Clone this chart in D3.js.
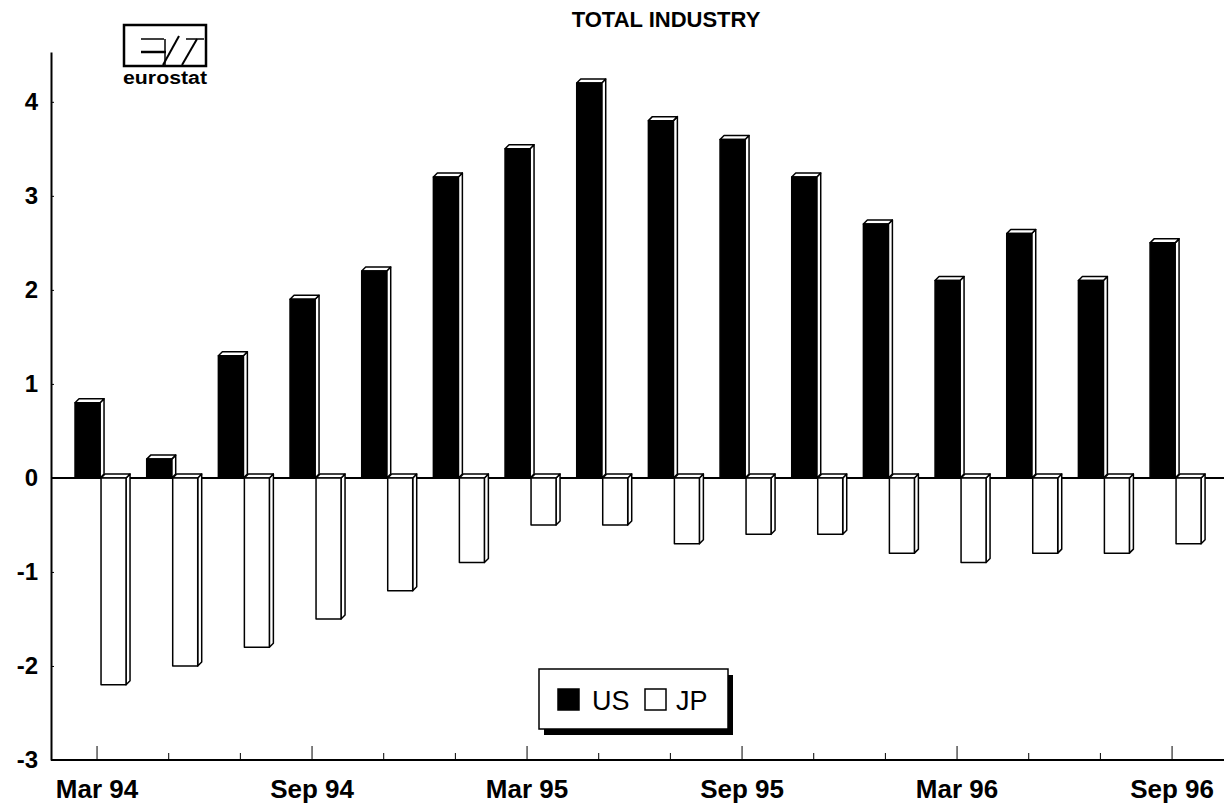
<!DOCTYPE html>
<html lang="en">
<head>
<meta charset="UTF-8">
<title>Total Industry</title>
<script src="https://d3js.org/d3.v7.min.js"></script>
<style>
  body { margin: 0; background: #fff; }
  svg { display: block; font-family: "Liberation Sans", Arial, sans-serif; }
  .ylab text { font-size: 24px; font-weight: bold; }
  .xlab text { font-size: 26px; font-weight: bold; }
</style>
</head>
<body>
<svg id="chart" width="1224" height="807"></svg>
<script>
// --- data ---
const categories = ["Mar 94", "May 94", "Jul 94", "Sep 94", "Nov 94", "Jan 95", "Mar 95", "May 95",
                    "Jul 95", "Sep 95", "Nov 95", "Jan 96", "Mar 96", "May 96", "Jul 96", "Sep 96"];
const labelledTicks = ["Mar 94", "Sep 94", "Mar 95", "Sep 95", "Mar 96", "Sep 96"];
const usValues = [0.8, 0.2, 1.3, 1.9, 2.2, 3.2, 3.5, 4.2, 3.8, 3.6, 3.2, 2.7, 2.1, 2.6, 2.1, 2.5];
const jpValues = [-2.2, -2.0, -1.8, -1.5, -1.2, -0.9, -0.5, -0.5, -0.7, -0.6, -0.6, -0.8, -0.9, -0.8, -0.8, -0.7];
const yTicks = [-3, -2, -1, 0, 1, 2, 3, 4];
const seriesNames = ["US", "JP"];
const seriesFill = ["#000", "#fff"];

const svg = d3.select("#chart");
svg.append("rect").attr("width", 1224).attr("height", 807).attr("fill", "#fff");

const x = d3.scaleBand().domain(categories).range([61.2, 1207.9]);
const y = d3.scaleLinear().domain([-3, 4.53]).range([760, 52]);

const axisX = 51;
const depth = 4;
const barW = 25;

// title
svg.append("text")
  .attr("x", 666).attr("y", 27)
  .attr("text-anchor", "middle")
  .style("font-size", "22px").style("font-weight", "bold")
  .text("TOTAL INDUSTRY");

// eurostat logo (rough)
const logo = svg.append("g").attr("stroke", "#000").attr("fill", "none");
logo.append("rect").attr("x", 124).attr("y", 25).attr("width", 82).attr("height", 41).attr("stroke-width", 2.5);
logo.append("line").attr("x1", 141).attr("y1", 39).attr("x2", 164).attr("y2", 39).attr("stroke-width", 1.5);
logo.append("line").attr("x1", 141).attr("y1", 52).attr("x2", 166).attr("y2", 52).attr("stroke-width", 2.5);
logo.append("line").attr("x1", 165).attr("y1", 39).attr("x2", 165).attr("y2", 65).attr("stroke-width", 1.5);
logo.append("line").attr("x1", 163).attr("y1", 65).attr("x2", 179).attr("y2", 36).attr("stroke-width", 2);
logo.append("line").attr("x1", 182).attr("y1", 65).attr("x2", 197).attr("y2", 39).attr("stroke-width", 2);
logo.append("line").attr("x1", 186).attr("y1", 39).attr("x2", 204).attr("y2", 39).attr("stroke-width", 1.5);
svg.append("text")
  .attr("x", 123).attr("y", 84)
  .attr("textLength", 84).attr("lengthAdjust", "spacingAndGlyphs")
  .style("font-size", "18px").style("font-weight", "bold")
  .text("eurostat");

// y axis
const yAxis = svg.append("g")
  .attr("class", "ylab")
  .attr("transform", `translate(${axisX},0)`)
  .call(d3.axisLeft(y).tickValues(yTicks).tickFormat(d => String(d)).tickSize(-3).tickSizeOuter(0).tickPadding(13));
yAxis.select(".domain").attr("stroke-width", 2);
yAxis.selectAll("text").attr("fill", "#000");

// x axis
const xAxis = svg.append("g")
  .attr("class", "xlab")
  .attr("transform", `translate(0,${y(-3)})`)
  .call(d3.axisBottom(x).tickSize(-7).tickSizeOuter(0).tickPadding(19.5)
    .tickFormat(d => labelledTicks.includes(d) ? d : ""));
xAxis.select(".domain").remove();
xAxis.selectAll(".tick line")
  .attr("y2", d => labelledTicks.includes(d) ? -14 : -7);
xAxis.selectAll("text").attr("fill", "#000");
svg.append("line")
  .attr("x1", axisX).attr("x2", 1224)
  .attr("y1", y(-3)).attr("y2", y(-3))
  .attr("stroke", "#000").attr("stroke-width", 2);

// zero line
svg.append("line")
  .attr("x1", axisX).attr("x2", 1224)
  .attr("y1", y(0)).attr("y2", y(0))
  .attr("stroke", "#000").attr("stroke-width", 2);

// 3D bars
function drawBox(g, x0, v, fill) {
  const ya = y(Math.max(v, 0));
  const yb = y(Math.min(v, 0));
  const d = depth;
  g.append("polygon")
    .attr("points", [[x0 + barW, ya], [x0 + barW + d, ya - d], [x0 + barW + d, yb - d], [x0 + barW, yb]].join(" "))
    .attr("fill", "#fff");
  g.append("polygon")
    .attr("points", [[x0, ya], [x0 + d, ya - d], [x0 + barW + d, ya - d], [x0 + barW, ya]].join(" "))
    .attr("fill", "#fff");
  g.append("rect")
    .attr("x", x0).attr("y", ya)
    .attr("width", barW).attr("height", yb - ya)
    .attr("fill", fill);
}

const bars = svg.append("g")
  .attr("stroke", "#000").attr("stroke-width", 1.5).attr("stroke-linejoin", "round");
categories.forEach((c, i) => {
  const cx = x(c) + x.bandwidth() / 2;
  drawBox(bars, cx - 22, usValues[i], seriesFill[0]);
  drawBox(bars, cx + 4, jpValues[i], seriesFill[1]);
});

// legend
const lg = svg.append("g").attr("transform", "translate(539,669)");
lg.append("rect").attr("x", 5).attr("y", 6).attr("width", 189).attr("height", 60).attr("fill", "#000");
lg.append("rect").attr("width", 189).attr("height", 60).attr("fill", "#fff")
  .attr("stroke", "#000").attr("stroke-width", 1.5);
const legendX = [[19, 53], [106, 137]];
seriesNames.forEach((name, i) => {
  lg.append("rect")
    .attr("x", legendX[i][0]).attr("y", 20).attr("width", 21).attr("height", 21)
    .attr("fill", seriesFill[i]).attr("stroke", "#000").attr("stroke-width", 1.5);
  lg.append("text")
    .attr("x", legendX[i][1]).attr("y", 41)
    .style("font-size", "27px")
    .text(name);
});
</script>
</body>
</html>
